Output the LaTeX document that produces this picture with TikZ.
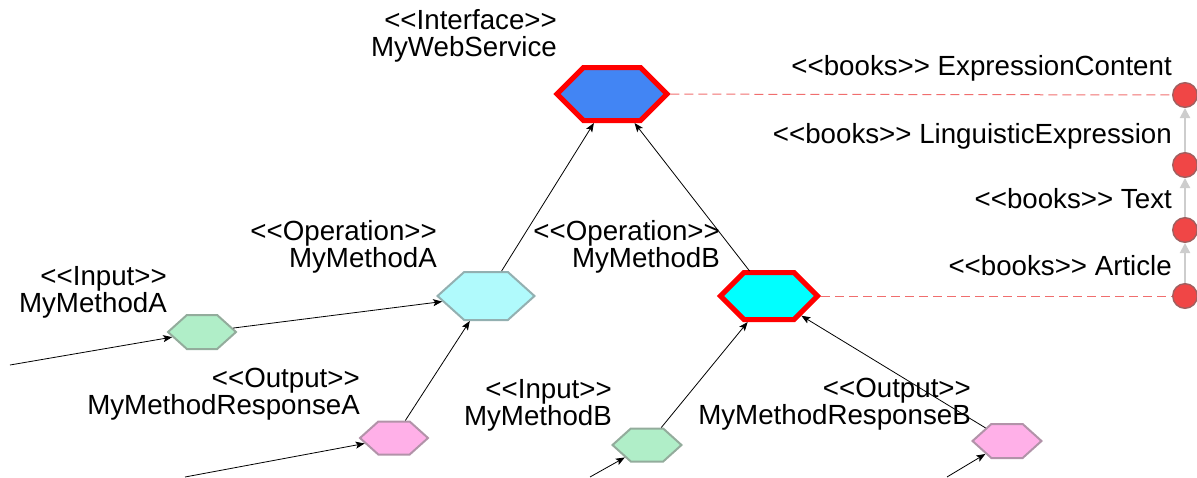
\documentclass[tikz,border=0pt]{standalone}
\usepackage{fontspec}
\setmainfont{Liberation Sans}[Ligatures=TeXOff]
\usetikzlibrary{shapes.symbols,arrows.meta}

\definecolor{ifaceblue}{RGB}{66,133,244}
\definecolor{palecyan}{RGB}{176,250,252}
\definecolor{brightcyan}{RGB}{0,255,255}
\definecolor{mintgreen}{RGB}{176,238,200}
\definecolor{softpink}{RGB}{255,176,232}
\definecolor{dotred}{RGB}{240,70,70}
\definecolor{dotedge}{RGB}{160,95,95}
\definecolor{linkred}{RGB}{240,110,110}
\definecolor{chaingray}{RGB}{205,205,205}

\begin{document}
\begin{tikzpicture}[x=1pt,y=-1pt,
  hexa/.style={signal, signal to=east and west, signal pointer angle=#1, inner sep=0pt},
  bighex/.style={hexa=90, draw=red, line width=5pt},
  smallhex/.style={hexa=84, fill=#1, draw=#1!40!gray, line width=2pt},
  lbl/.style={font=\fontsize{27.7}{27}\selectfont, align=right, inner sep=0pt, anchor=north east},
  booklbl/.style={font=\fontsize{27.7}{27}\selectfont, inner sep=0pt, anchor=base east},
  flow/.style={draw=black, line width=0.8pt, -{Stealth[length=9pt,width=7pt,inset=2pt]}},
  chain/.style={draw=chaingray, line width=2pt, -{Triangle[length=10pt,width=10pt]}},
  link/.style={draw=linkred, line width=1pt, dash pattern=on 9pt off 5pt},
  dot/.style={circle, fill=dotred, draw=dotedge, line width=1.4pt, minimum size=24.6pt, inner sep=0pt}
]
\useasboundingbox (0,0) rectangle (1197,477);

% stereotype labels (top of box = first baseline - 24pt)
\node[lbl] (tIface) at (557,5)   {\rule{0pt}{24pt}<<Interface>>\\MyWebService};
\node[lbl] (tOpA)   at (437,216) {\rule{0pt}{24pt}<<Operation>>\\MyMethodA};
\node[lbl] (tOpB)   at (720,216) {\rule{0pt}{24pt}<<Operation>>\\MyMethodB};
\node[lbl] (tInA)   at (167,261) {\rule{0pt}{24pt}<<Input>>\\MyMethodA};
\node[lbl] (tOutA)  at (360,363) {\rule{0pt}{24pt}<<Output>>\\MyMethodResponseA};
\node[lbl] (tInB)   at (612,374) {\rule{0pt}{24pt}<<Input>>\\MyMethodB};
\node[lbl] (tOutB)  at (971,373) {\rule{0pt}{24pt}<<Output>>\\MyMethodResponseB};

\node[booklbl] (tB1) at (1172,75)  {<<books>> ExpressionContent};
\node[booklbl] (tB2) at (1172,143) {<<books>> LinguisticExpression};
\node[booklbl] (tB3) at (1172,208) {<<books>> Text};
\node[booklbl] (tB4) at (1172,275) {<<books>> Article};

% hexagon elements
\node[bighex, fill=ifaceblue, minimum width=110pt, minimum height=53pt] (iface) at (612,94) {};
\node[smallhex=palecyan, minimum width=97pt, minimum height=48pt] (opA) at (486,296) {};
\node[bighex, fill=brightcyan, minimum width=97pt, minimum height=47pt] (opB) at (769,296) {};
\node[smallhex=mintgreen, minimum width=68pt, minimum height=34pt] (inA) at (202,332) {};
\node[smallhex=mintgreen, minimum width=69pt, minimum height=33pt] (inB) at (647,445) {};
\node[smallhex=softpink, minimum width=68pt, minimum height=33pt] (outA) at (394,438) {};
\node[smallhex=softpink, minimum width=69pt, minimum height=34pt] (outB) at (1007,441) {};

% book classes
\node[dot] (c1) at (1185,95) {};
\node[dot] (c2) at (1185,165) {};
\node[dot] (c3) at (1185,230) {};
\node[dot] (c4) at (1185,296) {};

% loose ends of incoming flows
\coordinate (srcInA)  at (10,365);
\coordinate (srcOutA) at (185,477);
\coordinate (srcInB)  at (590,477);
\coordinate (srcOutB) at (947,477);

% flows
\draw[flow] (opA) -- (iface);
\draw[flow] (opB) -- (iface);
\draw[flow] (inA) -- (opA);
\draw[flow] (outA) -- (opA);
\draw[flow] (inB) -- (opB);
\draw[flow] (outB) -- (opB);
\draw[flow] (srcInA) -- (inA);
\draw[flow] (srcOutA) -- (outA);
\draw[flow] (srcInB) -- (inB);
\draw[flow] (srcOutB) -- (outB);

% links to book classes
\draw[link] (iface) -- (c1);
\draw[link] (opB) -- (c4);

% book class chain
\draw[chain] (c4) -- (c3);
\draw[chain] (c3) -- (c2);
\draw[chain] (c2) -- (c1);
\end{tikzpicture}
\end{document}
